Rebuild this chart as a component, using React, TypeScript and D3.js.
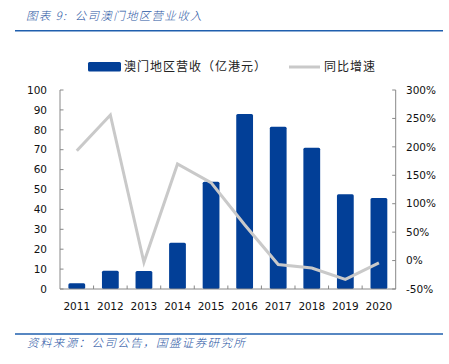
import React from "react";
import * as d3 from "d3";

const years = ["2011", "2012", "2013", "2014", "2015", "2016", "2017", "2018", "2019", "2020"];
const revenue = [2.9, 9.2, 9.0, 23.3, 53.9, 87.9, 81.5, 71.0, 47.6, 45.7];
const growth = [193, 256, -3, 170, 137, 63, -7, -13, -33, -4];
const leftTicks = [0, 10, 20, 30, 40, 50, 60, 70, 80, 90, 100];
const rightTicks = [-50, 0, 50, 100, 150, 200, 250, 300];

const W = 449;
const H = 364;
const plot = { left: 60, right: 395.7, top: 90, bottom: 289 };
const blue = "#023F97";
const gray = "#C9C9C9";
const textBlue = "#2A56A4";
const numFont = "'DejaVu Sans', Verdana, sans-serif";
const cjkFont = "'Noto Sans CJK SC', sans-serif";

export default function App() {
  const x = d3.scaleBand<string>().domain(years).range([plot.left, plot.right]).paddingInner(0).paddingOuter(0);
  const yL = d3.scaleLinear().domain([0, 100]).range([plot.bottom, plot.top]);
  const yR = d3.scaleLinear().domain([-50, 300]).range([plot.bottom, plot.top]);
  const bw = x.bandwidth() * 0.5;
  const line = d3
    .line<number>()
    .x((_, i) => (x(years[i]) as number) + x.bandwidth() / 2)
    .y((d) => yR(d));

  return (
    <svg width={W} height={H} style={{ position: "absolute", left: 0, top: 0, background: "#fff" }}>
      {/* title */}
      <text
        x={26}
        y={19.5}
        fill={textBlue}
        fontFamily={cjkFont}
        fontSize={11.5}
        fontStyle="italic"
        fontWeight={300}
        letterSpacing={1.3}
        style={{ whiteSpace: "pre" }}
      >
        图表 9:  公司澳门地区营业收入
      </text>
      <line x1={15} x2={443} y1={30.7} y2={30.7} stroke="#1F5FAE" strokeWidth={1.5} />

      {/* legend */}
      <rect x={88} y={62} width={33} height={9.5} fill={blue} rx={1.5} />
      <text x={124} y={71} fontFamily={cjkFont} fontSize={12} fill="#222" letterSpacing={1}>
        澳门地区营收（亿港元）
      </text>
      <line x1={289} x2={320} y1={67} y2={67} stroke={gray} strokeWidth={3} />
      <text x={324} y={71} fontFamily={cjkFont} fontSize={12} fill="#222" letterSpacing={1}>
        同比增速
      </text>

      {/* bars */}
      {revenue.map((v, i) => {
        const cx = (x(years[i]) as number) + x.bandwidth() / 2;
        return (
          <rect
            key={years[i]}
            x={cx - bw / 2}
            y={yL(v)}
            width={bw}
            height={yL(0) - yL(v)}
            fill={blue}
            rx={1.5}
          />
        );
      })}

      {/* axes */}
      <line x1={plot.left} x2={plot.left} y1={plot.top} y2={plot.bottom} stroke="#888" strokeWidth={1} />
      <line x1={plot.right} x2={plot.right} y1={plot.top} y2={plot.bottom} stroke="#888" strokeWidth={1} />
      <line x1={plot.left} x2={plot.right} y1={plot.bottom} y2={plot.bottom} stroke="#888" strokeWidth={1} />
      {leftTicks.map((t) => (
        <g key={"l" + t}>
          <line x1={plot.left} x2={plot.left + 3.5} y1={yL(t)} y2={yL(t)} stroke="#888" />
          <text x={47} y={yL(t)} dy="0.36em" textAnchor="end" fontFamily={numFont} fontSize={10.5} fill="#111">
            {t}
          </text>
        </g>
      ))}
      {rightTicks.map((t) => (
        <g key={"r" + t}>
          <line x1={plot.right - 3.5} x2={plot.right} y1={yR(t)} y2={yR(t)} stroke="#888" />
          <text x={406} y={yR(t)} dy="0.36em" textAnchor="start" fontFamily={numFont} fontSize={10.5} fill="#111">
            {t + "%"}
          </text>
        </g>
      ))}
      {years.map((yr, i) => {
        const x0 = x(yr) as number;
        return (
          <g key={"x" + yr}>
            {i > 0 && <line x1={x0} x2={x0} y1={plot.bottom} y2={plot.bottom - 3.5} stroke="#888" />}
            <text
              x={x0 + x.bandwidth() / 2}
              y={306}
              dy="0.36em"
              textAnchor="middle"
              fontFamily={numFont}
              fontSize={10.5}
              fill="#111"
            >
              {yr}
            </text>
          </g>
        );
      })}

      {/* growth line */}
      <path d={line(growth) || ""} fill="none" stroke={gray} strokeWidth={3} strokeLinejoin="miter" />

      {/* source */}
      <line x1={15} x2={443} y1={334} y2={334} stroke="#1F5FAE" strokeWidth={1.5} />
      <text
        x={27}
        y={347}
        fill={textBlue}
        fontFamily={cjkFont}
        fontSize={11.5}
        fontStyle="italic"
        fontWeight={300}
        letterSpacing={1.4}
      >
        资料来源：公司公告，国盛证券研究所
      </text>
    </svg>
  );
}
